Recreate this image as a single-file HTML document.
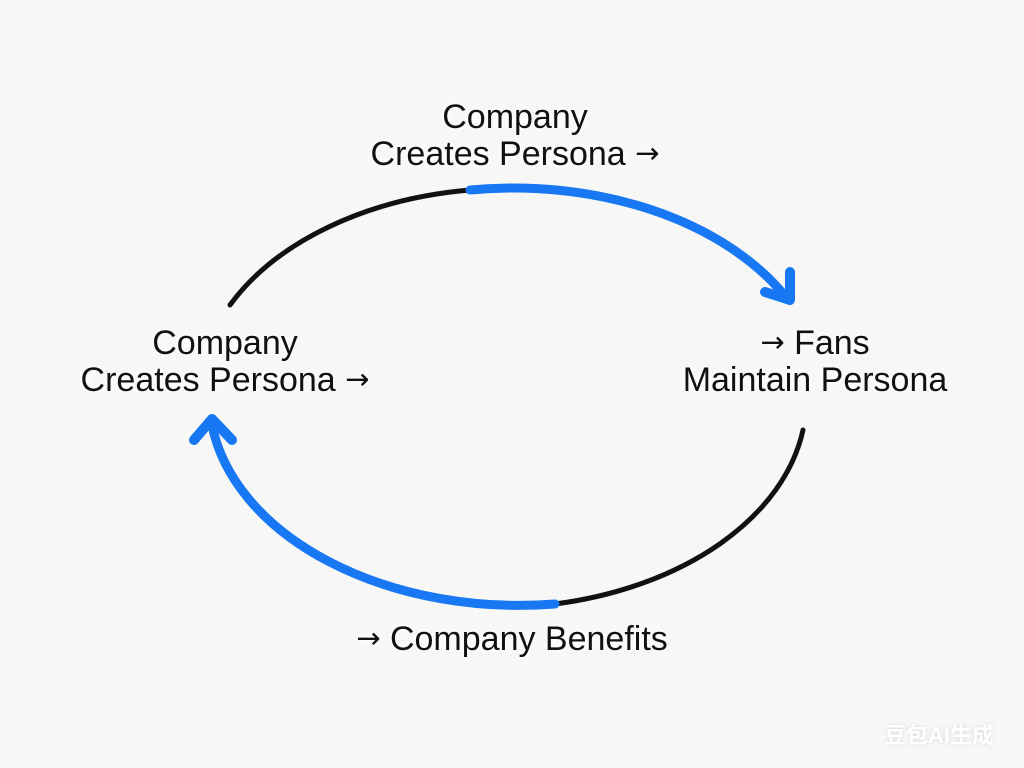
<!DOCTYPE html>
<html><head><meta charset="utf-8"><style>
html,body{margin:0;padding:0;}
body{width:1024px;height:768px;background:#f7f7f5;position:relative;overflow:hidden;font-family:"Liberation Sans",Arial,sans-serif;}
.t{position:absolute;font-size:34px;line-height:37px;color:#111;text-align:center;white-space:nowrap;text-shadow:0 0 8px #fff,0 0 8px #fff;}
.a{font-family:"DejaVu Sans",sans-serif;font-size:29px;line-height:0;position:relative;top:-2px;}
.wm{position:absolute;left:884px;top:718px;font-family:"Liberation Sans","Noto Sans CJK SC",sans-serif;font-size:22px;font-weight:bold;color:#fff;text-shadow:0 0 4px rgba(0,0,0,0.12);}
</style></head><body>
<svg width="1024" height="768" style="position:absolute;left:0;top:0">
<g fill="none" stroke-linecap="round" stroke-linejoin="round">
<path d="M230 305 A310 208 0 0 1 470 190" stroke="#111" stroke-width="5"/>
<path d="M470 190 A310 208 0 0 1 785 296" stroke="#1877f2" stroke-width="9"/>
<path d="M765 292 L790 300 L790 272" stroke="#1877f2" stroke-width="10"/>
<path d="M803 430 A310 208 0 0 1 555 604" stroke="#111" stroke-width="5"/>
<path d="M555 604 A310 208 0 0 1 212 425" stroke="#1877f2" stroke-width="9"/>
<path d="M194 440 L212 419 L232 440" stroke="#1877f2" stroke-width="10"/>
</g>
</svg>
<div class="t" style="left:340px;width:350px;top:99px">Company<br>Creates Persona <span class="a">→</span></div>
<div class="t" style="left:50px;width:350px;top:325px">Company<br>Creates Persona <span class="a">→</span></div>
<div class="t" style="left:650px;width:330px;top:325px"><span class="a">→</span> Fans<br>Maintain Persona</div>
<div class="t" style="left:300px;width:424px;top:621px"><span class="a">→</span> Company Benefits</div>
<div class="wm">豆包AI生成</div>
</body></html>
